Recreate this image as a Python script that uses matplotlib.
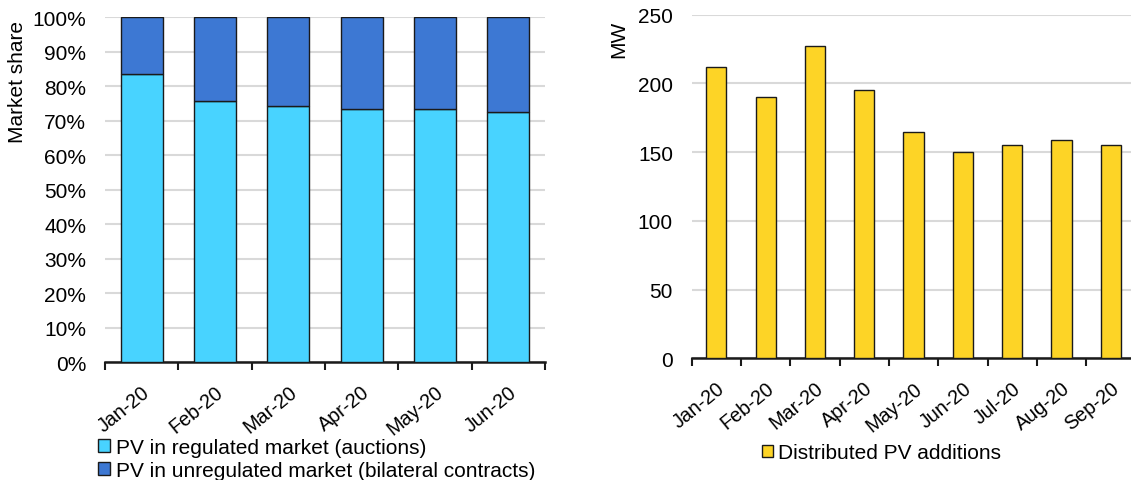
import matplotlib
matplotlib.use("Agg")
import matplotlib.pyplot as plt
import matplotlib.ticker as mticker
import numpy as np

# ── Data ────────────────────────────────────────
share_months = ["Jan-20", "Feb-20", "Mar-20", "Apr-20", "May-20", "Jun-20"]
regulated = [83.6, 75.6, 74.4, 73.3, 73.3, 72.4]          # % auctions
unregulated = [100 - v for v in regulated]                  # % bilateral

pv_months = ["Jan-20", "Feb-20", "Mar-20", "Apr-20", "May-20",
             "Jun-20", "Jul-20", "Aug-20", "Sep-20"]
pv_additions = [212, 190, 227, 195, 165, 150, 155, 159, 155]  # MW

C_LIGHT = "#48D3FF"
C_DARK = "#3D78D3"
C_YELLOW = "#FDD426"
C_GRID = "#D9D9D9"
C_EDGE = "#1a1a1a"
FS = 15

plt.rcParams["font.family"] = ["Liberation Sans", "DejaVu Sans"]
plt.rcParams["font.size"] = FS

fig = plt.figure(figsize=(11.31, 4.81), dpi=100)
ax1 = fig.add_axes([0.0928, 0.2453, 0.389, 0.7166])
ax2 = fig.add_axes([0.6116, 0.2530, 0.3923, 0.7143])


def style_axis(ax, n, labels):
    ax.set_xlim(-0.5, n - 0.5)
    ax.set_xticks(range(n))
    ax.set_xticklabels(labels, rotation=39, ha="right",
                       rotation_mode="anchor", fontsize=14.2)
    ax.set_xticks(np.arange(-0.5, n, 1), minor=True)
    ax.tick_params(axis="x", which="major", length=0, pad=14.4)
    ax.tick_params(axis="x", which="minor", length=6, width=1.5,
                   direction="out", color=C_EDGE)
    ax.tick_params(axis="y", length=0, pad=13.5, labelsize=FS)
    ax.grid(axis="y", color=C_GRID, linewidth=1.5)
    ax.set_axisbelow(True)
    for s in ["top", "right", "left"]:
        ax.spines[s].set_visible(False)
    ax.spines["bottom"].set_linewidth(1.8)
    ax.spines["bottom"].set_color(C_EDGE)


# ── Left: market share ──────────────────────────
x1 = np.arange(len(share_months))
ax1.bar(x1, regulated, width=0.575, color=C_LIGHT, edgecolor=C_EDGE,
        linewidth=1.0, label="PV in regulated market (auctions)", zorder=3)
ax1.bar(x1, unregulated, width=0.575, bottom=regulated, color=C_DARK,
        edgecolor=C_EDGE, linewidth=1.0,
        label="PV in unregulated market (bilateral contracts)", zorder=3)
ax1.set_ylim(0, 100)
ax1.yaxis.set_major_locator(mticker.MultipleLocator(10))
ax1.yaxis.set_major_formatter(mticker.FuncFormatter(lambda v, p: f"{v:.0f}%"))
style_axis(ax1, len(share_months), share_months)
ax1.set_ylabel("Market share", fontsize=FS)
ax1.yaxis.set_label_coords(-0.177, 0.814)
ax1.legend(loc="upper left", bbox_to_anchor=(0.087, 0.088),
           bbox_transform=fig.transFigure, frameon=False, fontsize=FS,
           handlelength=0.55, handleheight=0.55, handletextpad=0.3,
           labelspacing=0.2, borderpad=0, borderaxespad=0)

# ── Right: distributed PV additions ─────────────
x2 = np.arange(len(pv_months))
ax2.bar(x2, pv_additions, width=0.41, color=C_YELLOW, edgecolor=C_EDGE,
        linewidth=1.0, label="Distributed PV additions", zorder=3)
ax2.set_ylim(0, 250)
ax2.yaxis.set_major_locator(mticker.MultipleLocator(50))
style_axis(ax2, len(pv_months), pv_months)
ax2.set_ylabel("MW", fontsize=FS)
ax2.yaxis.set_label_coords(-0.142, 0.93)
ax2.legend(loc="upper left", bbox_to_anchor=(0.6735, 0.076),
           bbox_transform=fig.transFigure, frameon=False, fontsize=FS,
           handlelength=0.55, handleheight=0.55, handletextpad=0.22,
           borderpad=0, borderaxespad=0)

fig.savefig("out.png", dpi=100, facecolor="white")
